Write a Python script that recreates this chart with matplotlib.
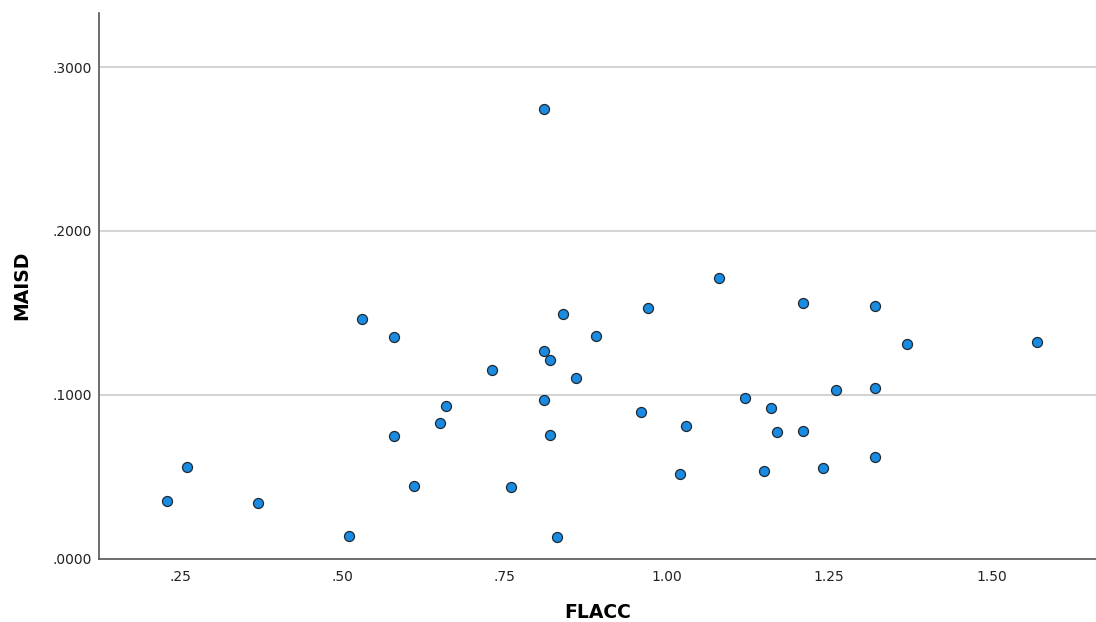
import matplotlib
matplotlib.use('Agg')
import matplotlib.pyplot as plt
from matplotlib.ticker import FuncFormatter, FixedLocator

# FLACC vs MAISD
flacc = [0.23, 0.26, 0.37, 0.51, 0.53, 0.58, 0.58, 0.61, 0.65, 0.66,
         0.73, 0.76, 0.81, 0.81, 0.81, 0.82, 0.82, 0.83, 0.84, 0.86,
         0.89, 0.96, 0.97, 1.02, 1.03, 1.08, 1.12, 1.15, 1.16, 1.17,
         1.21, 1.21, 1.24, 1.26, 1.32, 1.32, 1.32, 1.37, 1.57]
maisd = [0.0353, 0.0556, 0.0338, 0.0135, 0.1462, 0.1354, 0.0745, 0.0440, 0.0829, 0.0933,
         0.1154, 0.0434, 0.2747, 0.1270, 0.0965, 0.1214, 0.0752, 0.0132, 0.1496, 0.1101,
         0.1358, 0.0894, 0.1531, 0.0513, 0.0808, 0.1712, 0.0982, 0.0534, 0.0921, 0.0770,
         0.1562, 0.0780, 0.0552, 0.1028, 0.1541, 0.1040, 0.0619, 0.1309, 0.1324]

x_ticks = [0.25, 0.50, 0.75, 1.00, 1.25, 1.50]
y_ticks = [0.0, 0.1, 0.2, 0.3]


def strip_zero(fmt):
    def f(v, pos):
        s = fmt.format(v)
        if s.startswith('0.'):
            s = s[1:]
        return s
    return f


fig = plt.figure(figsize=(10.96, 6.22), dpi=100)
ax = fig.add_axes([98.5 / 1096, 1 - 558.5 / 622, 1 - 98.5 / 1096, (558.5 - 12.5) / 622])

ax.set_xlim(0.124, 1.661)
ax.set_ylim(0.0, 0.3334)

# light horizontal grid, no zero line
for v in y_ticks[1:]:
    ax.axhline(v, color='#d4d4d4', lw=1.5, zorder=1)

ax.scatter(flacc, maisd, s=52, c='#1a8be3', edgecolors='#1e2a33', linewidths=0.9, zorder=3)

ax.xaxis.set_major_locator(FixedLocator(x_ticks))
ax.yaxis.set_major_locator(FixedLocator(y_ticks))
ax.xaxis.set_major_formatter(FuncFormatter(strip_zero('{:.2f}')))
ax.yaxis.set_major_formatter(FuncFormatter(strip_zero('{:.4f}')))
ax.tick_params(axis='both', length=0, labelsize=10, colors='#222222')
ax.tick_params(axis='x', pad=8)
ax.tick_params(axis='y', pad=5)

for side in ['top', 'right']:
    ax.spines[side].set_visible(False)
for side in ['left', 'bottom']:
    ax.spines[side].set_color('#555555')
    ax.spines[side].set_linewidth(1.2)

ax.set_xlabel('FLACC', fontsize=13.5, fontweight='bold', labelpad=14)
ax.set_ylabel('MAISD', fontsize=13.5, fontweight='bold', labelpad=15)

fig.savefig('out.png', dpi=100)
